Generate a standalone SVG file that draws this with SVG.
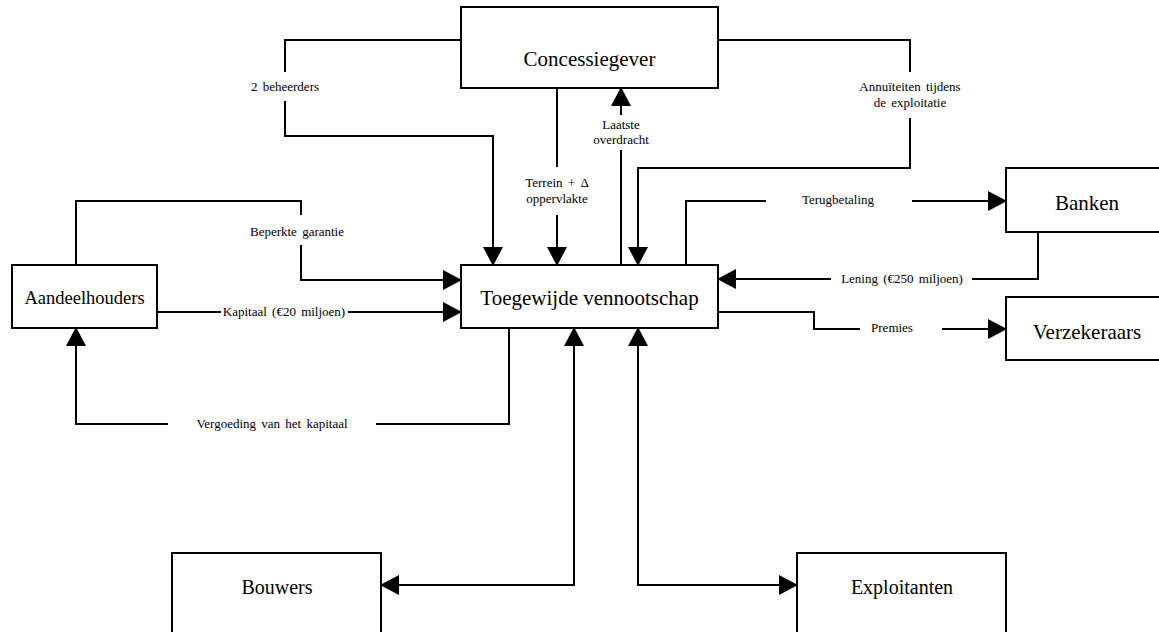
<svg xmlns="http://www.w3.org/2000/svg" width="1159" height="632" viewBox="0 0 1159 632">
<style>
.box{fill:#fff;stroke:#000;stroke-width:2}
.nt{font-family:'Liberation Serif','Times New Roman',Times,'DejaVu Serif',serif;font-size:21px;text-anchor:middle;fill:#000}
.lb{font-family:'Liberation Serif','Times New Roman',Times,'DejaVu Serif',serif;font-size:13px;text-anchor:middle;fill:#000;word-spacing:2px}
.cn{fill:none;stroke:#000;stroke-width:2}
.ar{marker-end:url(#ah)}
.ar2{marker-start:url(#ah);marker-end:url(#ah)}
</style>
<defs>
<marker id="ah" markerUnits="userSpaceOnUse" markerWidth="20" markerHeight="20" refX="0" refY="9.5" orient="auto-start-reverse" viewBox="0 0 18 19">
<path d="M0,0 L18,9.5 L0,19 Z" fill="#000"/>
</marker>
</defs>
<rect width="1159" height="632" fill="#fff"/>
<g id="connectors">
<path class="cn ar" d="M461,40 H285 V72 M285,101 V136 H493 V247"/>
<path class="cn ar" d="M76,265 V201 H301 V215 M301,245 V280 H443"/>
<path class="cn ar" d="M157,312 H221 M348,312 H443"/>
<path class="cn ar" d="M509,328 V424 H376 M168,424 H76 V346"/>
<path class="cn ar" d="M557,88 V167 M557,215 V247"/>
<path class="cn ar" d="M621,265 V150 M621,115 V106"/>
<path class="cn ar" d="M718,40 H910 V72 M910,118 V168 H638 V247"/>
<path class="cn ar" d="M686,265 V201 H766 M912,201 H988"/>
<path class="cn ar" d="M1038,232 V279 H972 M831,279 H736"/>
<path class="cn ar" d="M718,312 H814 V329 H860 M942,329 H988"/>
<path class="cn ar2" d="M574,346 V585 H399"/>
<path class="cn ar2" d="M638,346 V585 H779"/>
<text class="lb" x="285" y="91">2 beheerders</text>
<text class="lb" x="297" y="236">Beperkte garantie</text>
<text class="lb" x="284" y="316">Kapitaal (€20 miljoen)</text>
<text class="lb" x="272" y="428">Vergoeding van het kapitaal</text>
<text class="lb" x="557" y="187">Terrein + Δ</text>
<text class="lb" x="557" y="203">oppervlakte</text>
<text class="lb" x="621" y="129">Laatste</text>
<text class="lb" x="621" y="144">overdracht</text>
<text class="lb" x="910" y="91">Annuïteiten tijdens</text>
<text class="lb" x="910" y="107">de exploitatie</text>
<text class="lb" x="838" y="204">Terugbetaling</text>
<text class="lb" x="902" y="283">Lening (€250 miljoen)</text>
<text class="lb" x="892" y="332">Premies</text>
</g>
<g id="concessiegever">
<rect class="box" x="461" y="7" width="257" height="81"/>
<text class="nt" x="589.5" y="66">Concessiegever</text>
</g>
<g id="toegewijde">
<rect class="box" x="461" y="265" width="257" height="63"/>
<text class="nt" x="589.5" y="305">Toegewijde vennootschap</text>
</g>
<g id="aandeelhouders">
<rect class="box" x="12" y="265" width="145" height="63"/>
<text class="nt" x="84.5" y="304" style="font-size:18.5px">Aandeelhouders</text>
</g>
<g id="banken">
<rect class="box" x="1006" y="168" width="200" height="64"/>
<text class="nt" x="1087" y="210">Banken</text>
</g>
<g id="verzekeraars">
<rect class="box" x="1006" y="297" width="200" height="63"/>
<text class="nt" x="1087" y="339">Verzekeraars</text>
</g>
<g id="bouwers">
<rect class="box" x="172" y="553" width="209" height="100"/>
<text class="nt" x="277" y="594" style="font-size:20px">Bouwers</text>
</g>
<g id="exploitanten">
<rect class="box" x="797" y="553" width="209" height="100"/>
<text class="nt" x="902" y="594" style="font-size:20px">Exploitanten</text>
</g>
</svg>
